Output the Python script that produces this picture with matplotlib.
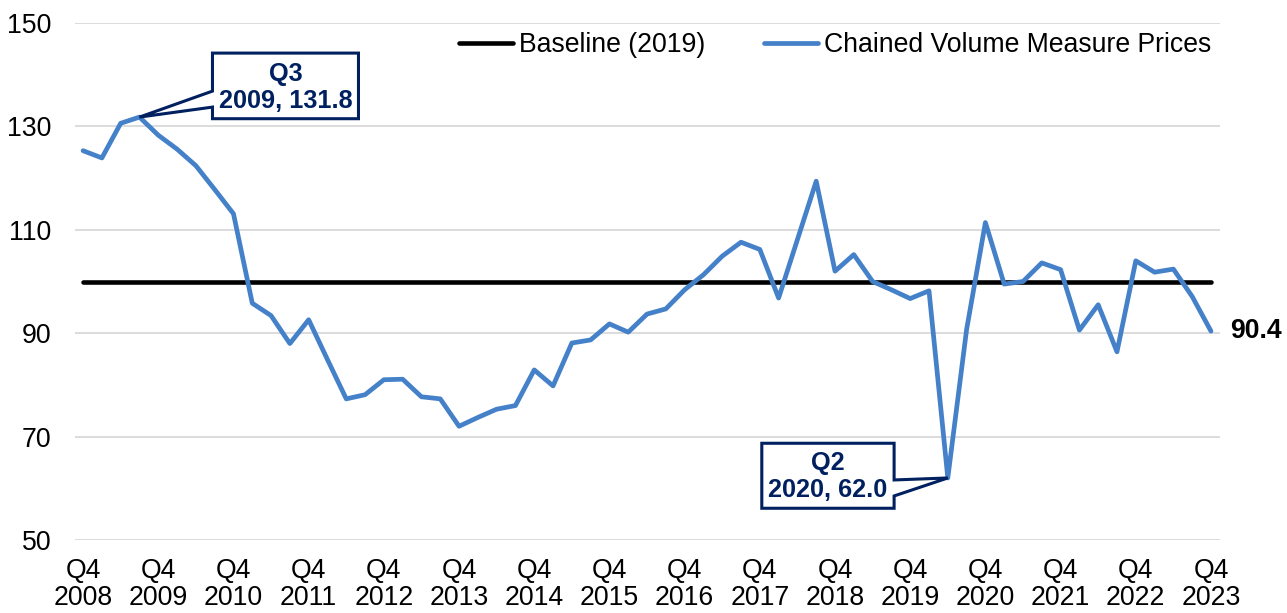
import matplotlib
matplotlib.use("Agg")
import matplotlib.pyplot as plt
import matplotlib.transforms as mtransforms
from matplotlib.patches import Polygon

plt.rcParams['font.family'] = ['Liberation Sans', 'DejaVu Sans']

# Data: quarterly index, Q4 2008 .. Q4 2023
prices = [125.3, 123.9, 130.6, 131.8, 128.3, 125.6, 122.4, 117.8, 113.1, 95.8,
          93.4, 88.0, 92.6, 84.9, 77.3, 78.1, 81.0, 81.1, 77.7, 77.3,
          72.0, 73.7, 75.3, 76.0, 82.9, 79.8, 88.1, 88.7, 91.8, 90.2,
          93.7, 94.7, 98.4, 101.3, 104.9, 107.6, 106.2, 96.8, 108.1, 119.4,
          102.0, 105.2, 100.0, 98.4, 96.7, 98.2, 62.0, 90.7, 111.4, 99.5,
          100.0, 103.6, 102.3, 90.6, 95.5, 86.4, 104.0, 101.8, 102.4, 97.1,
          90.4]
baseline = [100] * len(prices)
tick_years = [2008, 2009, 2010, 2011, 2012, 2013, 2014, 2015,
              2016, 2017, 2018, 2019, 2020, 2021, 2022, 2023]
tick_labels = ["Q4\n%d" % y for y in tick_years]
y_ticks = [50, 70, 90, 110, 130, 150]

# callouts: (index, text)
peak_idx, peak_text = 3, "Q3\n2009, 131.8"
low_idx, low_text = 46, "Q2\n2020, 62.0"

BLUE = '#4481C9'
NAVY = '#002060'
FS = 19.2

fig = plt.figure(figsize=(12.87, 6.13), dpi=100)
ax = fig.add_axes([75/1287, 73/613, 1145/1287, 517/613])

x = list(range(len(prices)))
ax.plot(x, baseline, color='black', lw=3.3, solid_capstyle='round',
        label='Baseline (2019)', zorder=3)
ax.plot(x, prices, color=BLUE, lw=3.4, solid_joinstyle='round',
        solid_capstyle='round', label='Chained Volume Measure Prices', zorder=4)

ax.set_xlim(-0.43, 60.48)
ax.set_ylim(50, 150)
ax.set_yticks(y_ticks)
ax.set_xticks(x[::4])
ax.set_xticklabels(tick_labels, linespacing=1.04)
ax.tick_params(axis='both', length=0, labelsize=FS)
ax.tick_params(axis='y', pad=17)
ax.tick_params(axis='x', pad=13)
ax.grid(axis='y', color='#D9D9D9', lw=1.3)
ax.set_axisbelow(True)
for s in ax.spines.values():
    s.set_visible(False)

leg = ax.legend(loc='center right', bbox_to_anchor=(0.992, 0.957), ncol=2,
                frameon=False, fontsize=FS, handlelength=2.05, handletextpad=0.2,
                columnspacing=2.2, borderpad=0, borderaxespad=0)


def callout(idx, verts, text_off, text):
    # verts in pixel offsets (y up) from the data point
    px = mtransforms.Affine2D().scale(fig.dpi / 100)
    tr = px + mtransforms.ScaledTranslation(idx, prices[idx], ax.transData)
    poly = Polygon(verts, closed=True, facecolor='white', edgecolor=NAVY,
                   lw=2.2, joinstyle='miter', transform=tr, zorder=6)
    ax.add_patch(poly)
    ax.annotate(text, xy=(idx, prices[idx]),
                xytext=(text_off[0] * 0.72, text_off[1] * 0.72),
                textcoords='offset points', ha='center', va='center',
                fontsize=18.2, fontweight='bold', color=NAVY, linespacing=1.15,
                zorder=7)


callout(peak_idx,
        [(73, -1.6), (219, -1.6), (219, 64), (73, 64), (73, 26), (0, 0), (73, 10)],
        (146, 30), peak_text)
callout(low_idx,
        [(-186, 34.7), (-53.7, 34.7), (-53.7, -2), (0, 0), (-53.7, -18),
         (-53.7, -30.3), (-186, -30.3)],
        (-120, 1.5), low_text)

# end label
ax.annotate("%.1f" % prices[-1], xy=(x[-1], prices[-1]), xytext=(14, 0),
            textcoords='offset points', ha='left', va='center',
            fontsize=FS, fontweight='bold', color='black', annotation_clip=False)

fig.savefig("out.png", dpi=100)
